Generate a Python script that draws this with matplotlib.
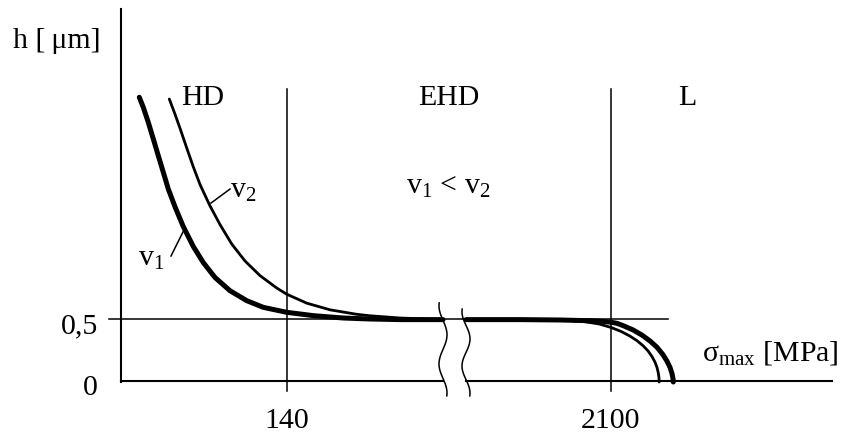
import numpy as np
import matplotlib
matplotlib.use("Agg")
import matplotlib.pyplot as plt

plt.rcParams["font.family"] = ["Liberation Serif", "DejaVu Serif"]
plt.rcParams["mathtext.fontset"] = "custom"
plt.rcParams["mathtext.rm"] = "Liberation Serif"
plt.rcParams["mathtext.it"] = "Liberation Serif:italic"

# schematic x units (axis runs 0..711, broken between 322 and 345), h in um
x_break = [322, 345]
x_end = 711
h_top = 3.0

# v1 (thick) - before and after the break
v1_x_a = [18.3, 22.3, 27.3, 32.3, 37.3, 42.3, 47.3, 54, 62.3, 72.3, 82.3, 94,
          109, 125.7, 142.3, 165.7, 192.3, 222.3, 249, 279, 322]
v1_h_a = [2.288, 2.207, 2.086, 1.952, 1.817, 1.683, 1.548, 1.405, 1.245, 1.085, 0.955, 0.835,
          0.728, 0.648, 0.594, 0.554, 0.527, 0.508, 0.500, 0.495, 0.495]
v1_x_b = [345, 399, 439, 469, 480, 490, 496, 502, 512, 521, 529, 536, 542, 546, 549,
          551, 552, 552.3]
v1_h_b = [0.495, 0.495, 0.492, 0.486, 0.482, 0.474, 0.465, 0.447, 0.412, 0.370, 0.323,
          0.272, 0.212, 0.160, 0.110, 0.060, 0.020, -0.008]

# v2 (thin)
v2_x_a = [48.3, 54, 59.7, 65.7, 72.3, 79, 89, 99, 110.7, 124, 139, 155.7, 165.7,
          185.7, 209, 235.7, 249, 279, 309, 322]
v2_h_a = [2.274, 2.152, 2.022, 1.880, 1.727, 1.585, 1.412, 1.262, 1.105, 0.968, 0.850,
          0.750, 0.700, 0.628, 0.574, 0.538, 0.526, 0.508, 0.499, 0.495]
v2_x_b = [345, 399, 429, 449, 464, 478, 490, 500, 509, 516, 522, 527, 531, 534, 536,
          537.3, 538, 538.2]
v2_h_b = [0.495, 0.495, 0.493, 0.488, 0.478, 0.460, 0.432, 0.400, 0.362, 0.325, 0.285,
          0.243, 0.197, 0.152, 0.110, 0.065, 0.025, -0.008]

# region borders and tick labels
region_x = [166, 490]
region_labels = ["140", "2100"]
y_ticks = [0, 0.5]
y_labels = ["0", "0,5"]
zones = [("HD", 60), ("EHD", 297), ("L", 557)]

fig = plt.figure(figsize=(8.51, 4.35), dpi=100)
ax = fig.add_axes([0, 0, 1, 1])
ax.set_xlim(-121, 730)
ax.set_ylim(-0.4274, 3.0806)
ax.axis("off")

fs = 21.5
curve_kw = dict(color="black", solid_capstyle="round", solid_joinstyle="round")

# axes
ax.plot([0, 0], [h_top, -0.01], color="black", lw=1.5)
ax.plot([0, x_break[0]], [0, 0], color="black", lw=1.5)
ax.plot([x_break[1], x_end], [0, 0], color="black", lw=1.5)

# 0,5 reference line
ax.plot([-12, 547], [0.5, 0.5], color="black", lw=1.1)

# zone borders
for xv in region_x:
    ax.plot([xv, xv], [2.355, -0.08], color="black", lw=1.1)

# curves
ax.plot(v1_x_a, v1_h_a, lw=3.6, **curve_kw)
ax.plot(v1_x_b, v1_h_b, lw=3.6, **curve_kw)
ax.plot(v2_x_a, v2_h_a, lw=2.0, **curve_kw)
ax.plot(v2_x_b, v2_h_b, lw=2.0, **curve_kw)

# break marks (wavy)
t = np.linspace(0, 1, 60)
for xb, top in zip(x_break, [0.63, 0.58]):
    hh = top - t * (top + 0.12)
    xx = xb + 4 * np.sin(2 * np.pi * (t * 1.6 - 0.3))
    ax.plot(xx, hh, color="black", lw=1.1)

# tick labels
for yt, lab in zip(y_ticks, y_labels):
    ax.annotate(lab, xy=(0, yt), xytext=(-23, -13), textcoords="offset pixels",
                ha="right", va="baseline", fontsize=fs)
for xv, lab in zip(region_x, region_labels):
    ax.annotate(lab, xy=(xv, 0), xytext=(0, -46), textcoords="offset pixels",
                ha="center", va="baseline", fontsize=fs)

# zone names
for name, xz in zones:
    ax.text(xz, 2.234, name, ha="left", va="baseline", fontsize=fs)

# axis titles
ax.text(-108, 2.69, "h [\u2009μm]", ha="left", va="baseline", fontsize=fs)
ax.text(581, 0.177, r"σ$_{\mathrm{max}}$ [MPa]", ha="left", va="baseline", fontsize=fs)

# curve labels
ax.text(285, 1.516, r"v$_{1}$ < v$_{2}$", ha="left", va="baseline", fontsize=fs)
ax.text(17, 0.935, r"v$_{1}$", ha="left", va="baseline", fontsize=fs)
ax.text(109, 1.484, r"v$_{2}$", ha="left", va="baseline", fontsize=fs)
ax.plot([50, 62], [1.008, 1.202], color="black", lw=1.1)
ax.plot([90, 109], [1.435, 1.548], color="black", lw=1.1)

fig.savefig("out.png", dpi=100)
